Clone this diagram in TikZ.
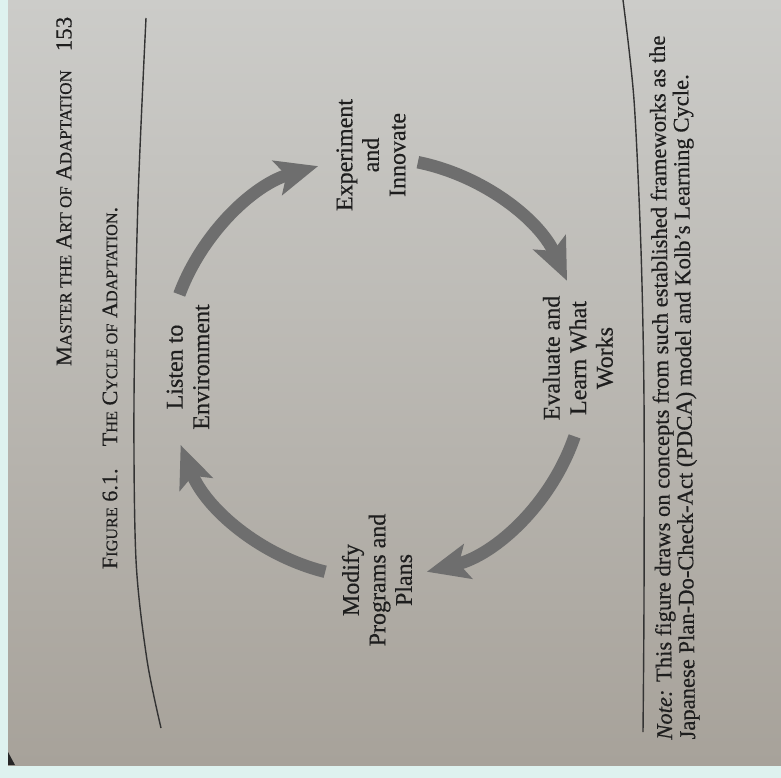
\documentclass[tikz,border=0pt]{standalone}
\usepackage{fontspec}
\setmainfont{Liberation Serif}[FakeBold=0.45]
\usetikzlibrary{arrows.meta,calc}
\definecolor{bgc}{HTML}{DEF2EF}
\definecolor{pagetop}{HTML}{CCCCC9}
\definecolor{pagemid}{HTML}{C1C0BB}
\definecolor{pagebot}{HTML}{A7A29A}
\definecolor{ink}{HTML}{1E1E1E}
\definecolor{rulec}{HTML}{333333}
\definecolor{arrowgray}{HTML}{6E6E6E}
\newcommand\smc[1]{{\fontsize{17}{17}\selectfont #1}}
\newcommand\smcc[1]{{\fontsize{16.2}{16}\selectfont #1}}
\tikzset{
  lab/.style={rotate=90, align=center, text=ink, inner sep=0pt,
    font=\fontsize{24}{26.5}\selectfont},
  cyc/.style={draw=arrowgray, line width=12.5pt,
    -{Stealth[length=42pt,width=35pt,inset=9pt]}},
  rulel/.style={draw=rulec, line width=1.4pt},
}
\begin{document}
\begin{tikzpicture}[x=1pt,y=-1pt]
\useasboundingbox (0,0) rectangle (781,778);
\fill[bgc] (0,0) rectangle (781,778);
\shade[top color=pagetop, middle color=pagemid, bottom color=pagebot] (8,0) rectangle (781,765);
\fill[black!85] (8,752) -- (15,765) -- (8,765) -- cycle;

% rules
\draw[rulel] plot[smooth] coordinates {(146,18) (138,200) (134,400) (136,560) (147,660) (161,728)};
\draw[rulel] plot[smooth] coordinates {(623,0) (634,100) (641,250) (644,400) (644,600) (643,732)};

% header
\node[rotate=90, anchor=east, text=ink, inner sep=0pt, font=\fontsize{22.6}{22}\selectfont] (hdr) at (64,70)
  {M\smc{ASTER THE} A\smc{RT OF} A\smc{DAPTATION}};
\node[rotate=90, text=ink, inner sep=0pt, font=\fontsize{23}{23}\selectfont] (pg) at (64,34) {153};

% caption
\node[rotate=90, text=ink, inner sep=0pt, font=\fontsize{22.2}{22}\selectfont] (cap) at (110,388)
  {F\smcc{IGURE} 6.1.\quad T\smcc{HE} C\smcc{YCLE OF} A\smcc{DAPTATION}.};

% labels
\node[lab] (listen) at (188,367) {Listen to\\Environment};
\node[lab] (exper) at (371,155) {Experiment\\and\\Innovate};
\node[lab] (eval) at (578,358) {Evaluate and\\Learn What\\Works};
\node[lab] (modify) at (377,580) {Modify\\Programs and\\Plans};

% cycle arrows
\coordinate (c) at (376,368);
\coordinate (s1) at ($(c)+(200.5:210)$);
\coordinate (s2) at ($(c)+(281.5:210)$);
\coordinate (s3) at ($(c)+(19:210)$);
\coordinate (s4) at ($(c)+(104:210)$);
\draw[cyc] (s1) arc[start angle=200.5, end angle=254, radius=210];
\draw[cyc] (s2) arc[start angle=281.5, end angle=335.5, radius=210];
\draw[cyc] (s3) arc[start angle=19, end angle=76, radius=210];
\draw[cyc] (s4) arc[start angle=104, end angle=158.5, radius=210];

% note
\node[rotate=90.6, anchor=north west, align=left, text=ink, inner sep=0pt,
  font=\fontsize{22.6}{23}\selectfont] (note) at (656,740)
  {\textit{Note:} This figure draws on concepts from such established frameworks as the\\
   Japanese Plan-Do-Check-Act (PDCA) model and Kolb's Learning Cycle.};
\end{tikzpicture}
\end{document}
